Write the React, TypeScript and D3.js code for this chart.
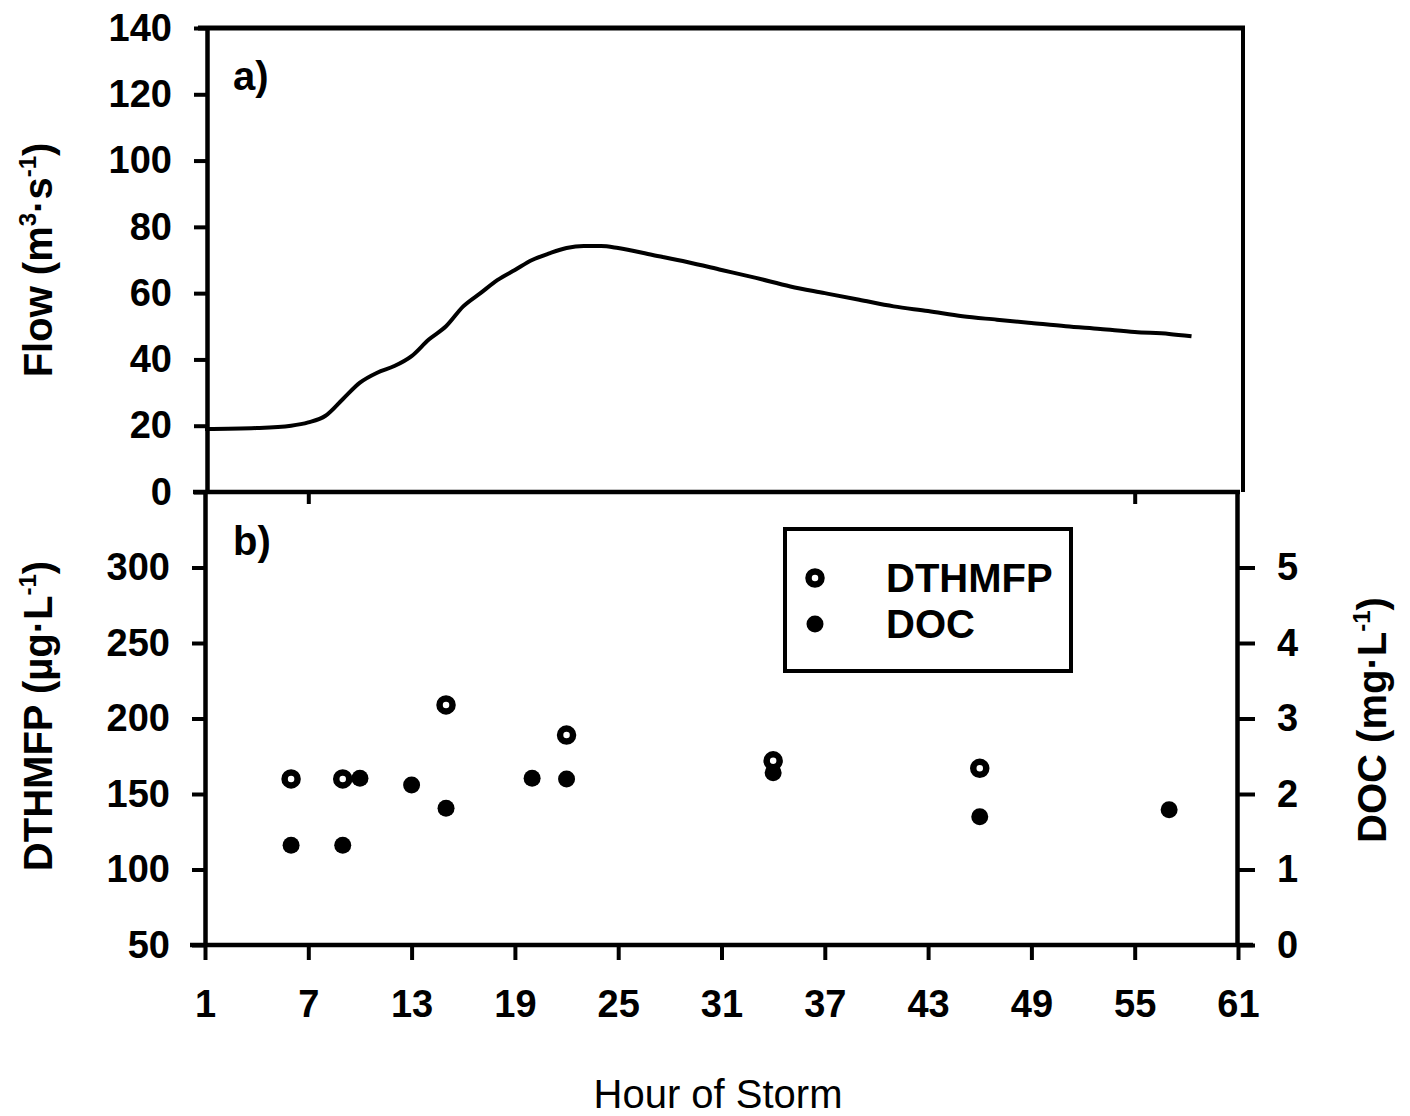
import * as d3 from "d3";
import React, { useEffect, useRef } from "react";

// flow hydrograph (panel a)
const flowHours = [1, 4, 6, 7, 8, 9, 10, 11, 12, 13, 14, 15, 16, 17, 18, 19, 20, 21, 22, 23, 24, 25, 27, 29, 31, 33, 35, 37, 39, 41, 43, 45, 47, 49, 51, 53, 55, 57, 58.3];
const flow = [19, 19.3, 20, 21, 23, 28, 33, 36, 38, 41, 46, 50, 56, 60, 64, 67, 70, 72, 73.6, 74.2, 74.2, 73.6, 71.5, 69.4, 67, 64.6, 62, 60, 58, 56, 54.6, 53, 52, 51, 50, 49.2, 48.3, 47.7, 47];

// panel b
const dthHours = [6, 9, 15, 22, 34, 46];
const dthmfp = [160, 160, 209, 189, 172, 167];
const docHours = [6, 9, 10, 13, 15, 20, 22, 34, 46, 57];
const doc = [1.32, 1.32, 2.21, 2.12, 1.81, 2.21, 2.2, 2.28, 1.7, 1.79];

const hourTicks = [1, 7, 13, 19, 25, 31, 37, 43, 49, 55, 61];
const topHourTicks = [7, 55];
const flowTicks = [0, 20, 40, 60, 80, 100, 120, 140];
const dthTicks = [50, 100, 150, 200, 250, 300];
const docTicks = [0, 1, 2, 3, 4, 5];

const FONT = "'Liberation Sans', Arial, sans-serif";

const App = () => {
  const ref = useRef(null);

  useEffect(() => {
    const svg = d3.select(ref.current);
    svg.selectAll("*").remove();

    const x = d3.scaleLinear().domain([1, 61]).range([205, 1238]);
    const yFlow = d3.scaleLinear().domain([0, 140]).range([492, 28]);
    const yDth = d3.scaleLinear().domain([50, 350]).range([945, 492]);
    const yDoc = d3.scaleLinear().domain([0, 6]).range([945, 492]);

    const styleAxis = (g) => {
      g.select(".domain").attr("stroke-width", 4.5);
      g.selectAll(".tick line").attr("stroke-width", 4);
      g.selectAll(".tick text")
        .attr("font-family", FONT)
        .attr("font-size", 38)
        .attr("font-weight", "bold")
        .attr("fill", "#000");
    };

    // panel a frame
    svg.append("line").attr("x1", 198).attr("x2", 1245).attr("y1", 28).attr("y2", 28)
      .attr("stroke", "#000").attr("stroke-width", 5);
    svg.append("line").attr("x1", 1243).attr("x2", 1243).attr("y1", 28).attr("y2", 492)
      .attr("stroke", "#000").attr("stroke-width", 4);

    svg.append("g")
      .attr("transform", "translate(207,0)")
      .call(d3.axisLeft(yFlow).tickValues(flowTicks).tickSize(13).tickSizeOuter(0).tickPadding(22))
      .call(styleAxis);

    svg.append("g")
      .attr("transform", "translate(0,492)")
      .call(d3.axisBottom(x).tickValues(topHourTicks).tickSize(12).tickSizeOuter(0).tickFormat(() => ""))
      .call(styleAxis)
      .call((g) => g.select(".domain").attr("d", "M193,0H1240"));

    // panel b axes
    svg.append("g")
      .attr("transform", "translate(205,0)")
      .call(d3.axisLeft(yDth).tickValues(dthTicks).tickSize(13).tickSizeOuter(0).tickPadding(22))
      .call(styleAxis);

    svg.append("g")
      .attr("transform", "translate(1237,0)")
      .call(d3.axisRight(yDoc).tickValues(docTicks).tickSize(18).tickSizeOuter(0).tickPadding(22).tickFormat(d3.format("d")))
      .call(styleAxis);

    svg.append("g")
      .attr("transform", "translate(0,945)")
      .call(d3.axisBottom(x).tickValues(hourTicks).tickSize(15).tickSizeOuter(0).tickPadding(30))
      .call(styleAxis)
      .call((g) => g.select(".domain").attr("d", "M190,0H1253"));

    // flow line
    const line = d3.line()
      .x((d) => x(d[0]))
      .y((d) => yFlow(d[1]))
      .curve(d3.curveMonotoneX);
    svg.append("path")
      .datum(flowHours.map((h, i) => [h, flow[i]]))
      .attr("d", line)
      .attr("fill", "none")
      .attr("stroke", "#000")
      .attr("stroke-width", 4);

    // DOC filled
    svg.append("g")
      .selectAll("circle")
      .data(docHours)
      .join("circle")
      .attr("cx", (d) => x(d))
      .attr("cy", (_, i) => yDoc(doc[i]))
      .attr("r", 8.5)
      .attr("fill", "#000");

    // DTHMFP open
    svg.append("g")
      .selectAll("circle")
      .data(dthHours)
      .join("circle")
      .attr("cx", (d) => x(d))
      .attr("cy", (_, i) => yDth(dthmfp[i]))
      .attr("r", 6.5)
      .attr("fill", "#fff")
      .attr("stroke", "#000")
      .attr("stroke-width", 6.5);

    const text = (tx, ty, str, opts = {}) =>
      svg.append("text")
        .attr("x", tx)
        .attr("y", ty)
        .attr("font-family", FONT)
        .attr("font-size", opts.size || 40)
        .attr("font-weight", opts.weight || "bold")
        .attr("text-anchor", opts.anchor || "start")
        .attr("fill", "#000")
        .text(str);

    text(233, 90, "a)");
    text(233, 555, "b)");

    // legend
    svg.append("rect").attr("x", 785).attr("y", 529).attr("width", 286).attr("height", 142)
      .attr("fill", "none").attr("stroke", "#000").attr("stroke-width", 4);
    svg.append("circle").attr("cx", 815).attr("cy", 578).attr("r", 6.5)
      .attr("fill", "#fff").attr("stroke", "#000").attr("stroke-width", 6.5);
    svg.append("circle").attr("cx", 815).attr("cy", 624).attr("r", 8.5).attr("fill", "#000");
    text(886, 592, "DTHMFP");
    text(886, 638, "DOC");

    // axis titles, rotated, with superscripts
    const title = (tx, ty, parts) => {
      const t = svg.append("text")
        .attr("transform", `translate(${tx},${ty}) rotate(-90)`)
        .attr("text-anchor", "middle")
        .attr("font-family", FONT)
        .attr("font-size", 40)
        .attr("font-weight", "bold")
        .attr("fill", "#000");
      parts.forEach(([s, sup], i) => {
        t.append("tspan")
          .attr("font-size", sup ? 24 : 40)
          .attr("dy", sup ? -16 : i > 0 ? 16 : 0)
          .text(s);
      });
    };

    title(52, 260, [["Flow  (m", false], ["3", true], ["·s", false], ["-1", true], [")", false]]);
    title(52, 716, [["DTHMFP (µg·L", false], ["-1", true], [")", false]]);
    title(1386, 720, [["DOC (mg·L", false], ["-1", true], [")", false]]);

    text(718, 1108, "Hour of Storm", { anchor: "middle", weight: "normal" });
  }, []);

  return (
    <svg
      ref={ref}
      width={1410}
      height={1116}
      style={{ position: "absolute", left: 0, top: 0, background: "#fff" }}
    />
  );
};

export default App;
